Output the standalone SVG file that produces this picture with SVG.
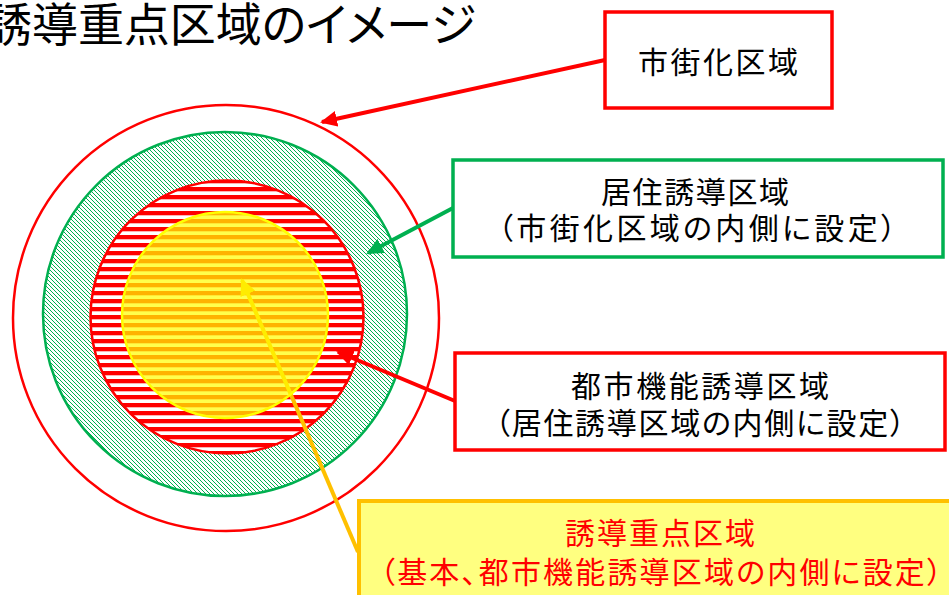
<svg xmlns="http://www.w3.org/2000/svg" width="949" height="595" viewBox="0 0 949 595">
<style>
text{font-family:"Noto Sans CJK JP","Noto Sans",sans-serif;font-feature-settings:"palt";}
.t{font-size:30px;fill:#000;text-anchor:middle;}
.ty{font-size:30px;fill:#FF0000;text-anchor:middle;}
.conn{fill:none;stroke-width:4;}
</style>
<defs>
<pattern id="greenHatch" patternUnits="userSpaceOnUse" width="4" height="4">
<rect width="4" height="4" fill="#fff"/>
<path d="M-1,-1 L5,5 M-1,3 L1,5 M3,-1 L5,1" stroke="#00B050" stroke-width="1"/>
</pattern>
<pattern id="redStripes" patternUnits="userSpaceOnUse" width="8" height="8" y="3">
<rect width="8" height="8" fill="#fff"/>
<rect width="8" height="4.3" fill="#FF0000"/>
</pattern>
<marker id="ahRed" markerUnits="userSpaceOnUse" markerWidth="18" markerHeight="16" refX="15" refY="8" orient="auto"><path d="M0,0 L17,8 L0,16 z" fill="#FF0000"/></marker>
<marker id="ahGreen" markerUnits="userSpaceOnUse" markerWidth="18" markerHeight="16" refX="15" refY="8" orient="auto"><path d="M0,0 L17,8 L0,16 z" fill="#00B050"/></marker>
<marker id="ahOrange" markerUnits="userSpaceOnUse" markerWidth="18" markerHeight="16" refX="15" refY="8" orient="auto"><path d="M0,0 L17,8 L0,16 z" fill="#FFC000"/></marker>
</defs>
<rect width="949" height="595" fill="#fff"/>
<text id="title" x="-14" y="41" font-size="46" fill="#000" textLength="490" lengthAdjust="spacing">誘導重点区域のイメージ</text>
<g id="shigaika-circle"><circle cx="226" cy="318" r="213" fill="#fff" stroke="#FF0000" stroke-width="2.5"/></g>
<g id="kyoju-circle"><circle cx="225" cy="314" r="182" fill="url(#greenHatch)" stroke="#00B050" stroke-width="2.5"/></g>
<g id="toshikino-circle"><circle cx="227" cy="317" r="136.5" fill="url(#redStripes)" stroke="#FF0000" stroke-width="2.5"/></g>
<g id="connectors">
<line class="conn" x1="605" y1="60" x2="322" y2="122" stroke="#FF0000" marker-end="url(#ahRed)"/>
<line class="conn" x1="453" y1="208" x2="368" y2="253" stroke="#00B050" marker-end="url(#ahGreen)"/>
<line class="conn" x1="455" y1="401" x2="338" y2="352" stroke="#FF0000" marker-end="url(#ahRed)"/>
<line class="conn" x1="358" y1="552" x2="242" y2="280" stroke="#FFC000" marker-end="url(#ahOrange)"/>
</g>
<g id="juten-circle"><circle cx="225" cy="315" r="103" fill="#FFFF00" fill-opacity="0.7" stroke="#FFFF00" stroke-width="2.5"/></g>
<g id="box-shigaika">
<rect x="605" y="12" width="227" height="96" fill="#fff" stroke="#FF0000" stroke-width="3.5"/>
<text class="t" x="718" y="73" textLength="160" lengthAdjust="spacing">市街化区域</text>
</g>
<g id="box-kyoju">
<rect x="453" y="160" width="490" height="97" fill="#fff" stroke="#00B050" stroke-width="3.5"/>
<text class="t" x="695" y="203" textLength="188" lengthAdjust="spacing">居住誘導区域</text>
<text class="t" x="697" y="239" textLength="398" lengthAdjust="spacing">（市街化区域の内側に設定）</text>
</g>
<g id="box-toshikino">
<rect x="455" y="353" width="490" height="97" fill="#fff" stroke="#FF0000" stroke-width="3.5"/>
<text class="t" x="700" y="397" textLength="258" lengthAdjust="spacing">都市機能誘導区域</text>
<text class="t" x="700" y="434" textLength="410" lengthAdjust="spacing">（居住誘導区域の内側に設定）</text>
</g>
<g id="box-juten">
<rect x="359" y="501" width="600" height="110" fill="#FFFF80" stroke="#FFC000" stroke-width="4"/>
<text class="ty" x="660" y="544" textLength="190" lengthAdjust="spacing">誘導重点区域</text>
<text class="ty" x="661" y="583" textLength="562" lengthAdjust="spacing">（基本、都市機能誘導区域の内側に設定）</text>
</g>
</svg>
